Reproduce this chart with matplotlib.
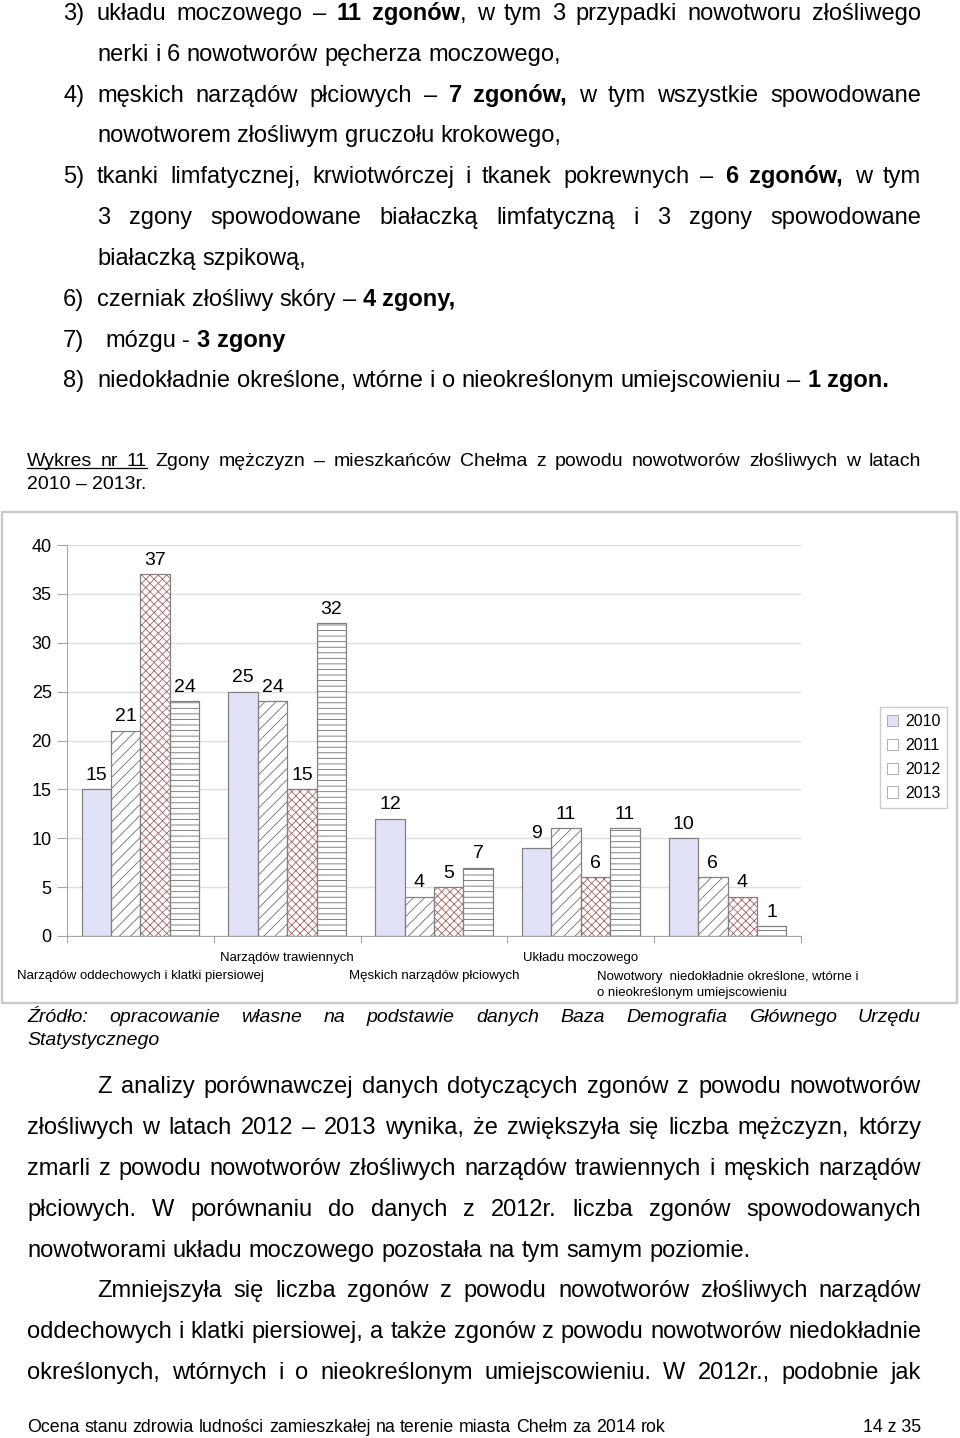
import matplotlib.pyplot as plt
from matplotlib.patches import Rectangle, Patch
from matplotlib.lines import Line2D
import numpy as np

plt.rcParams['font.family'] = ['Liberation Sans', 'DejaVu Sans']
plt.rcParams['hatch.linewidth'] = 0.6

W, H = 960, 1438

# dane wykresu
kategorie = ['Narządów oddechowych i klatki piersiowej',
             'Narządów trawiennych',
             'Męskich narządów płciowych',
             'Układu moczowego',
             'Nowotwory  niedokładnie określone, wtórne i\no nieokreślonym umiejscowieniu']
lata = ['2010', '2011', '2012', '2013']
z2010 = [15, 25, 12, 9, 10]
z2011 = [21, 24, 4, 11, 6]
z2012 = [37, 15, 5, 6, 4]
z2013 = [24, 32, 7, 11, 1]
yticks = [0, 5, 10, 15, 20, 25, 30, 35, 40]

# tekst strony: (środek y, x początku, tekst, rozmiar, x końca przy justowaniu, kursywa)
wiersze = [
    (13, 63, "3)", 17, None, False),
    (13, 97, "układu moczowego – *11 zgonów*, w tym 3 przypadki nowotworu złośliwego", 17, 921, False),
    (54, 97, "nerki i 6 nowotworów pęcherza moczowego,", 17, None, False),
    (95, 63, "4)", 17, None, False),
    (95, 97, "męskich narządów płciowych – *7 zgonów,* w tym wszystkie spowodowane", 17, 921, False),
    (135, 97, "nowotworem złośliwym gruczołu krokowego,", 17, None, False),
    (176, 63, "5)", 17, None, False),
    (176, 97, "tkanki limfatycznej, krwiotwórczej i tkanek pokrewnych – *6 zgonów,* w tym", 17, 921, False),
    (217, 97, "3 zgony spowodowane białaczką limfatyczną i 3 zgony spowodowane", 17, 921, False),
    (258, 97, "białaczką szpikową,", 17, None, False),
    (299, 63, "6)", 17, None, False),
    (299, 97, "czerniak złośliwy skóry – *4 zgony,*", 17, None, False),
    (340, 63, "7)", 17, None, False),
    (340, 105, "mózgu - *3 zgony*", 17, None, False),
    (380, 63, "8)", 17, None, False),
    (380, 97, "niedokładnie określone, wtórne i o nieokreślonym umiejscowieniu – *1 zgon.*", 17, None, False),
    (460, 27, "Wykres nr 11 Zgony mężczyzn – mieszkańców Chełma z powodu nowotworów złośliwych w latach", 14, 921, False),
    (483, 27, "2010 – 2013r.", 14, None, False),
    (1016, 27, "Źródło: opracowanie własne na podstawie danych Baza Demografia Głównego Urzędu", 14, 921, True),
    (1039, 27, "Statystycznego", 14, None, True),
    (1086, 97, "Z analizy porównawczej danych dotyczących zgonów z powodu nowotworów", 17, 921, False),
    (1127, 27, "złośliwych w latach 2012 – 2013 wynika, że zwiększyła się liczba mężczyzn, którzy", 17, 921, False),
    (1168, 27, "zmarli z powodu nowotworów złośliwych narządów trawiennych i męskich narządów", 17, 921, False),
    (1209, 27, "płciowych. W porównaniu do danych z 2012r. liczba zgonów spowodowanych", 17, 921, False),
    (1250, 27, "nowotworami układu moczowego pozostała na tym samym poziomie.", 17, None, False),
    (1290, 97, "Zmniejszyła się liczba zgonów z powodu nowotworów złośliwych narządów", 17, 921, False),
    (1331, 27, "oddechowych i klatki piersiowej, a także zgonów z powodu nowotworów niedokładnie", 17, 921, False),
    (1372, 27, "określonych, wtórnych i o nieokreślonym umiejscowieniu. W 2012r., podobnie jak", 17, 921, False),
    (1427, 27, "Ocena stanu zdrowia ludności zamieszkałej na terenie miasta Chełm za 2014 rok", 12.8, None, False),
]

fig = plt.figure(figsize=(W / 100, H / 100), dpi=100)
renderer = fig.canvas.get_renderer()


def fx(x):
    return x / W


def fy(y):
    return 1 - y / H


def wiersz(yc, x0, tekst, size, x1=None, italic=False):
    yb = yc + size * 0.42
    bold = False
    slowa = []
    for s in tekst.split(' '):
        if not s:
            continue
        kawalki = []
        for k, p in enumerate(s.split('*')):
            if k > 0:
                bold = not bold
            if p:
                t = fig.text(0, fy(yb), p, fontsize=size, va='baseline', ha='left',
                             weight='bold' if bold else 'normal',
                             style='italic' if italic else 'normal')
                kawalki.append((t, t.get_window_extent(renderer).width))
        slowa.append(kawalki)
    szer = [sum(w for _, w in k) for k in slowa]
    if x1 is not None and len(slowa) > 1:
        odstep = (x1 - x0 - sum(szer)) / (len(slowa) - 1)
    else:
        odstep = 0.278 * size * 100 / 72
    x = x0
    pozycje = []
    for kawalki, sw in zip(slowa, szer):
        pozycje.append((x, x + sw))
        xx = x
        for t, w in kawalki:
            t.set_x(fx(xx))
            xx += w
        x += sw + odstep
    return pozycje, yb


for yc, x0, tekst, size, x1, it in wiersze:
    poz, yb = wiersz(yc, x0, tekst, size, x1, it)
    if tekst.startswith("Wykres"):
        fig.add_artist(Line2D([fx(poz[0][0]), fx(poz[2][1])], [fy(yb + 2), fy(yb + 2)],
                              transform=fig.transFigure, color='black', lw=0.9))

fig.text(fx(921), fy(1427 + 12.8 * 0.42), "14 z 35", fontsize=12.8, va='baseline', ha='right')

# ramka wykresu
fig.add_artist(Rectangle((fx(2), fy(1003)), 955 / W, 491 / H, transform=fig.transFigure,
                         fill=False, edgecolor='#C8C8C8', lw=1.6))

ax = fig.add_axes([fx(67), fy(936), 734 / W, 391 / H])
x = np.arange(len(kategorie))
bw = 0.2
seria = [z2010, z2011, z2012, z2013]
style = [
    dict(color='#E1E1F8', edgecolor='#808080', hatch=None),
    dict(color='white', edgecolor='#6E6E6E', hatch='///'),
    dict(color='white', edgecolor='#A46462', hatch='xxxx'),
    dict(color='white', edgecolor='#6E6E6E', hatch='---'),
]
for j, (vals, st) in enumerate(zip(seria, style)):
    pos = x + (j - 1.5) * bw
    ax.bar(pos, vals, bw, color=st['color'], edgecolor=st['edgecolor'], hatch=st['hatch'],
           linewidth=0.8, zorder=2)
    ax.bar(pos, vals, bw, fill=False, edgecolor='#808080', linewidth=0.8, zorder=3)
    for px, v in zip(pos, vals):
        ax.annotate(str(v), (px, v), xytext=(0, 4), textcoords='offset points',
                    ha='center', va='bottom', fontsize=14)

ax.set_xlim(-0.5, len(kategorie) - 0.5)
ax.set_ylim(0, 40)
ax.set_yticks(yticks)
ax.set_xticks(np.arange(len(kategorie) + 1) - 0.5)
ax.set_xticklabels([])
ax.tick_params(axis='y', labelsize=13, length=7, color='#A6A6A6', pad=4)
ax.tick_params(axis='x', length=5, color='#A6A6A6')
ax.grid(axis='y', color='#DCDCDC', lw=1.0, zorder=0)
ax.set_axisbelow(True)
for s in ['top', 'right']:
    ax.spines[s].set_visible(False)
for s in ['left', 'bottom']:
    ax.spines[s].set_color('#A6A6A6')

tr = ax.get_xaxis_transform()
for i, lab in enumerate(kategorie):
    if i % 2 == 1:
        yy = (936 - 958) / 391
        ax.text(i, yy, lab, transform=tr, ha='center', va='center', fontsize=9.5)
    elif '\n' in lab:
        yy = (936 - 985) / 391
        ax.text(i, yy, lab, transform=tr, ha='center', va='center', fontsize=9.5,
                multialignment='left', linespacing=1.4)
    else:
        yy = (936 - 976) / 391
        ax.text(i, yy, lab, transform=tr, ha='center', va='center', fontsize=9.5)

uchwyty = [Patch(facecolor=st['color'], edgecolor='#A0A0A0', lw=0.6) for st in style]
fig.legend(uchwyty, lata, loc='upper left', bbox_to_anchor=(fx(880), fy(707)),
           fontsize=11.5, frameon=True, fancybox=False, edgecolor='#C0C0C0',
           handlelength=0.7, handleheight=0.7, handletextpad=0.4, labelspacing=0.55,
           borderpad=0.45, borderaxespad=0)

fig.savefig('out.png', dpi=100)
